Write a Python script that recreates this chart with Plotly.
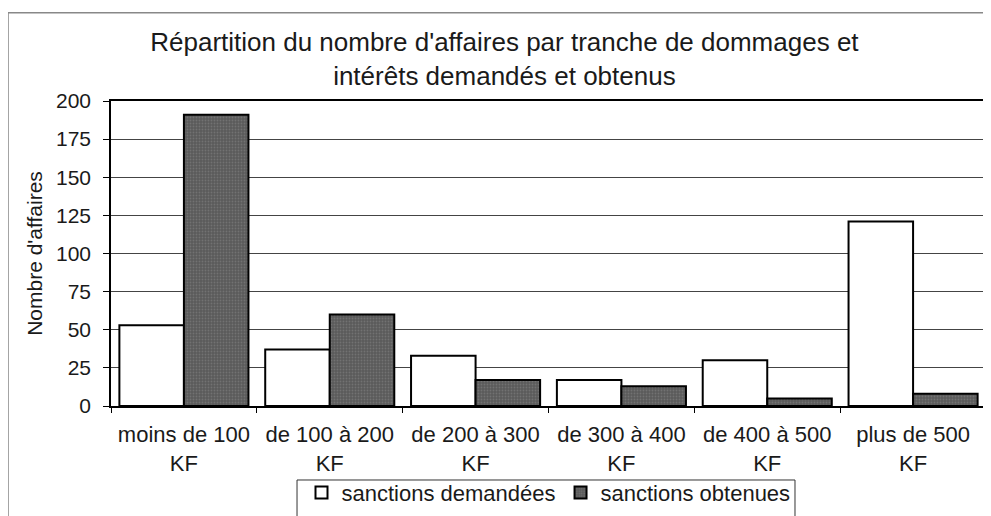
import plotly.graph_objects as go

# ─── Data ─────────────────────────────────────────────────────────────────────
CATEGORIES = ["moins de 100<br>KF", "de 100 à 200<br>KF", "de 200 à 300<br>KF",
              "de 300 à 400<br>KF", "de 400 à 500<br>KF", "plus de 500<br>KF"]
DEMANDEES = [53, 37, 33, 17, 30, 121]
OBTENUES = [191, 60, 17, 13, 5, 8]
Y_TICKS = [0, 25, 50, 75, 100, 125, 150, 175, 200]

FONT = "Liberation Sans, Arial, sans-serif"
INK = "#1a1a1a"

fig = go.Figure()
fig.add_trace(go.Bar(
    x=CATEGORIES, y=DEMANDEES, name="sanctions demandées",
    marker=dict(color="white", line=dict(color="black", width=2)),
))
fig.add_trace(go.Bar(
    x=CATEGORIES, y=OBTENUES, name="sanctions obtenues",
    marker=dict(color="#5a5a5a", line=dict(color="black", width=2),
                pattern=dict(shape=".", fgcolor="#8a8a8a", size=3, solidity=0.3)),
))

# page body has an 8px margin, so the figure is drawn 8px smaller
fig.update_layout(
    width=983, height=508,
    paper_bgcolor="white", plot_bgcolor="white",
    margin=dict(l=103, r=5, t=93, b=110, autoexpand=False),
    font=dict(family=FONT, color=INK, size=20),
    barmode="group", bargap=0.115, bargroupgap=0,
    title=dict(text="Répartition du nombre d'affaires par tranche de dommages et<br>intérêts demandés et obtenus",
               x=0.505, xanchor="center", y=0.915, yanchor="top",
               font=dict(size=26, color=INK)),
    xaxis=dict(showgrid=False, tickson="boundaries", ticks="outside", ticklen=5,
               tickcolor="black", showline=True, linecolor="black", linewidth=1.5,
               mirror=True, tickfont=dict(size=22), automargin=False,
               ticklabelstandoff=8),
    yaxis=dict(range=[0, 200], tickvals=Y_TICKS, showgrid=True, gridcolor="#444",
               gridwidth=1, ticks="outside", ticklen=6, tickcolor="black",
               showline=True, linecolor="black", linewidth=1.5, mirror=True,
               zeroline=False, tickfont=dict(size=21), automargin=False,
               ticklabelstandoff=8,
               title=dict(text="Nombre d'affaires", font=dict(size=21), standoff=8)),
    legend=dict(orientation="h", x=0.5, xanchor="center", y=-0.215, yanchor="top",
                borderwidth=0, bgcolor="rgba(0,0,0,0)", font=dict(size=22),
                itemsizing="constant", traceorder="normal", itemwidth=30),
    shapes=[
        dict(type="rect", xref="paper", yref="paper",
             x0=-0.1177, x1=1.0046, y0=-0.5, y1=1.289,
             line=dict(color="#888", width=1.5), layer="below"),
        dict(type="rect", xref="paper", yref="paper",
             x0=0.2126, x1=0.7817, y0=-0.5, y1=-0.2426,
             line=dict(color="#333", width=1), layer="below"),
    ],
)

fig.write_html("out.html")
